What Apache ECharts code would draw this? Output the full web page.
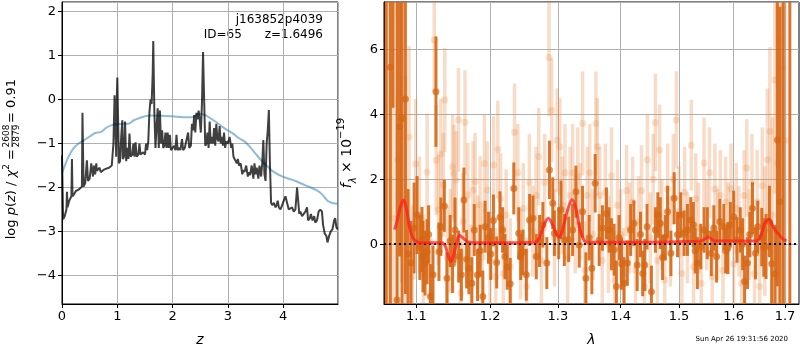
<!DOCTYPE html>
<html><head><meta charset="utf-8">
<script src="https://cdn.jsdelivr.net/npm/echarts@6/dist/echarts.min.js"></script>
<style>html,body{margin:0;padding:0;background:#fff}#c{width:800px;height:350px}</style>
</head><body><div id="c"></div>
<script>
// ---- left panel: log p(z) ----
const pzZ = [0.00,0.01,0.02,0.05,0.08,0.09,0.10,0.13,0.15,0.17,0.18,0.19,0.22,0.25,0.28,0.30,0.33,0.36,0.37,0.39,0.42,0.45,0.47,0.50,0.53,0.56,0.58,0.60,0.62,0.63,0.66,0.68,0.70,0.75,0.80,0.85,0.88,0.90,0.93,0.95,0.965,0.98,0.99,1.00,1.01,1.03,1.05,1.07,1.09,1.10,1.12,1.14,1.16,1.18,1.20,1.22,1.24,1.27,1.29,1.31,1.33,1.35,1.38,1.40,1.42,1.45,1.47,1.50,1.52,1.54,1.56,1.58,1.60,1.62,1.64,1.65,1.66,1.67,1.69,1.71,1.73,1.75,1.77,1.79,1.81,1.83,1.85,1.87,1.89,1.91,1.93,1.95,1.97,2.00,2.03,2.05,2.07,2.09,2.12,2.14,2.17,2.19,2.22,2.25,2.28,2.30,2.33,2.35,2.37,2.39,2.41,2.43,2.45,2.47,2.49,2.51,2.53,2.55,2.57,2.59,2.61,2.63,2.65,2.67,2.69,2.71,2.73,2.75,2.77,2.79,2.81,2.83,2.85,2.87,2.89,2.91,2.93,2.95,2.97,3.00,3.03,3.06,3.08,3.10,3.13,3.16,3.18,3.20,3.23,3.26,3.28,3.30,3.33,3.36,3.38,3.40,3.43,3.46,3.48,3.50,3.52,3.55,3.57,3.60,3.62,3.64,3.66,3.68,3.70,3.72,3.74,3.76,3.78,3.80,3.83,3.86,3.88,3.90,3.92,3.95,3.98,4.01,4.04,4.07,4.10,4.13,4.16,4.19,4.22,4.25,4.27,4.29,4.31,4.34,4.37,4.40,4.43,4.45,4.48,4.50,4.53,4.56,4.58,4.61,4.64,4.67,4.70,4.72,4.75,4.78,4.80,4.83,4.86,4.89,4.92,4.94,4.96,4.98];
const pzLog = [-1.27,-2.0,-2.72,-2.65,-2.5,-2.1,-2.45,-2.3,-2.25,-2.2,-1.35,-2.2,-2.15,-2.08,-2.1,-2.05,-2.02,-1.98,-0.3,-1.98,-1.9,-1.38,-1.85,-1.8,-1.45,-1.75,-1.5,-1.7,-1.45,-1.62,-1.62,-1.55,-1.65,-1.6,-1.57,-1.55,-1.52,-1.5,-1.0,0.1,-0.6,-1.3,0.0,0.5,-0.2,-1.45,-1.4,-0.85,-0.47,-1.35,-1.3,-0.5,-1.4,-1.1,-1.35,-0.77,-1.3,-1.25,-1.0,-1.3,-0.97,-1.3,-1.25,-1.0,-1.25,-1.25,-1.2,-1.25,-1.0,-1.15,-0.95,-0.3,0.0,-0.1,0.6,1.33,0.5,-0.3,-1.1,-0.6,-0.2,-1.1,-0.25,-1.0,-0.7,-1.1,-1.05,-0.75,-1.1,-0.75,-1.1,-0.8,-1.15,-1.1,-1.05,-1.15,-0.8,-1.15,-1.1,-1.15,-0.9,-1.15,-1.1,-1.1,-0.75,-1.1,-1.05,-0.55,-0.7,-0.35,-0.75,-0.3,-0.45,-0.25,-0.45,-0.75,-0.1,1.08,0.0,-1.05,-1.0,-0.75,-1.1,-0.5,-1.0,-0.85,-1.0,-0.65,-1.05,-0.55,-0.9,-0.95,-0.6,-1.0,-0.85,-1.05,-0.75,-1.1,-0.95,-1.0,-0.85,-1.1,-1.0,-1.3,-1.3,-1.45,-1.35,-1.5,-1.45,-1.7,-1.6,-1.65,-1.5,-1.75,-1.65,-1.72,-1.5,-1.8,-1.45,-1.7,-1.55,-1.8,-1.5,-1.75,-1.45,-0.92,-1.7,-1.85,-1.0,-0.7,-0.24,-1.5,-2.35,-2.4,-2.35,-2.45,-2.4,-2.3,-2.45,-2.5,-2.4,-2.3,-2.2,-2.35,-2.5,-2.5,-2.45,-2.55,-2.5,-2.0,-2.3,-2.6,-2.55,-2.65,-2.6,-2.55,-2.45,-2.75,-2.7,-2.6,-2.75,-2.65,-2.8,-2.75,-2.55,-2.5,-2.55,-2.85,-3.05,-3.1,-3.25,-3.1,-3.0,-2.95,-2.75,-2.7,-2.9,-2.95];
const priorZ = [0.0,0.1,0.2,0.3,0.4,0.5,0.6,0.7,0.8,0.9,1.0,1.1,1.2,1.3,1.4,1.5,1.6,1.8,2.0,2.2,2.35,2.5,2.6,2.7,2.8,2.9,3.0,3.1,3.2,3.3,3.4,3.5,3.6,3.7,3.8,4.0,4.2,4.4,4.6,4.7,4.8,4.9,4.99];
const priorLog = [-1.68,-1.35,-1.12,-1.0,-0.92,-0.84,-0.76,-0.74,-0.64,-0.58,-0.56,-0.55,-0.55,-0.47,-0.42,-0.38,-0.36,-0.37,-0.38,-0.40,-0.40,-0.32,-0.36,-0.44,-0.52,-0.62,-0.70,-0.78,-0.88,-0.95,-1.08,-1.23,-1.38,-1.5,-1.62,-1.76,-1.84,-1.95,-2.06,-2.15,-2.3,-2.36,-2.37];
const zTicks = [0,1,2,3,4];

// ---- right panel: spectrum ----
const darkLam = [1.0615,1.0667,1.0700,1.0751,1.0785,1.0815,1.0858,1.0892,1.0930,1.0970,1.1008,1.1045,1.1073,1.1086,1.1113,1.1139,1.1160,1.1183,1.1218,1.1257,1.1297,1.1323,1.1369,1.1404,1.1448,1.1480,1.1513,1.1563,1.1600,1.1635,1.1672,1.1704,1.1745,1.1778,1.1824,1.1861,1.1898,1.1930,1.1977,1.2010,1.2047,1.2094,1.2141,1.2179,1.2212,1.2246,1.2289,1.2341,1.2413,1.2442,1.2476,1.2525,1.2574,1.2624,1.2673,1.2722,1.2772,1.2832,1.2872,1.2922,1.2947,1.3013,1.3049,1.3100,1.3167,1.3229,1.3281,1.3333,1.3385,1.3438,1.3490,1.3533,1.3586,1.3650,1.3703,1.3768,1.3811,1.3850,1.3893,1.3931,1.3974,1.4015,1.4057,1.4112,1.4167,1.4222,1.4277,1.4333,1.4370,1.4406,1.4445,1.4519,1.4588,1.4630,1.4672,1.4712,1.4760,1.4799,1.4857,1.4915,1.4973,1.5032,1.5091,1.5150,1.5210,1.5257,1.5290,1.5329,1.5390,1.5450,1.5510,1.5583,1.5630,1.5680,1.5741,1.5815,1.5850,1.5889,1.5938,1.6000,1.6063,1.6126,1.6170,1.6208,1.6265,1.6310,1.6360,1.6418,1.6463,1.6540,1.6580,1.6624,1.6690,1.6735,1.6801,1.6847,1.6899,1.6965,1.7098];
const darkFlux = [8.5,5.45,8.0,-1.72,3.62,3.88,4.47,-0.3,-0.58,0.5,0.9,-0.1,0.15,-0.38,-0.58,-0.23,0.3,-1.61,-0.94,4.70,-0.23,0.54,1.18,-1.05,0.1,-0.6,0.44,-0.38,-0.94,1.36,-0.46,-0.74,-1.2,0.44,-0.95,-0.2,-1.61,0.54,0.2,-0.3,0.73,-0.56,0.83,0.44,-0.38,-0.7,-1.22,1.72,0.34,-0.4,-0.25,-0.94,0.75,0.8,-0.38,0.1,0.6,-0.58,2.29,1.26,0.34,0.34,1.06,0.13,0.15,0.44,1.62,-0.02,1.0,-1.05,0.2,-0.74,1.88,0.13,0.5,0.95,0.44,0.0,-0.17,-1.3,0.2,-0.6,-1.2,-0.58,0.44,0.65,-0.64,0.3,-0.9,-0.64,0.54,-1.46,0.44,0.9,0.65,-0.4,0.2,1.0,-0.28,1.42,0.3,0.9,0.34,0.44,0.75,0.6,-0.2,-0.58,-0.07,0.44,0.34,-0.28,0.5,-0.38,0.7,0.54,-0.2,-0.12,0.6,0.85,0.13,0.44,0.0,-1.15,-0.58,0.3,1.11,-0.28,0.54,0.22,-0.1,-0.07,0.7,-0.6,-0.91,3.21,1.31,8.5,8.5];
const darkErr = [12,8,3.8,12,4,6,6,2.0,1.3,1.4,1.2,1.0,1.0,1.1,1.0,1.0,0.9,1.0,0.9,1.7,0.9,0.9,0.8,0.8,0.8,0.9,1.0,0.8,0.8,1.0,0.9,0.8,0.8,0.8,0.8,0.8,0.8,0.8,0.8,0.8,0.8,0.8,0.8,0.7,0.7,0.7,0.8,0.8,0.8,0.7,0.7,0.8,0.8,0.7,0.7,0.8,0.7,0.8,0.9,0.8,0.7,0.8,0.9,0.8,0.7,0.8,0.8,0.7,0.8,0.8,0.7,0.8,0.9,0.8,0.7,0.8,0.7,0.8,0.8,0.8,0.7,0.8,0.8,0.7,0.8,0.7,0.8,0.7,0.7,0.8,0.7,0.8,0.7,0.7,0.8,0.7,0.7,0.8,0.7,0.8,0.7,0.7,0.7,0.8,0.7,0.7,0.7,0.8,0.7,0.7,0.8,0.7,0.7,0.8,0.7,0.7,0.7,0.8,0.7,0.8,0.7,0.7,0.8,0.8,0.8,0.7,0.8,0.8,0.8,0.9,0.9,1.0,1.1,1.3,1.5,4.5,6.0,12,12];
const lightLam = [1.0640,1.0700,1.0760,1.0810,1.0860,1.0905,1.0950,1.0990,1.1040,1.1090,1.1140,1.1190,1.1234,1.1260,1.1290,1.1322,1.1355,1.1375,1.1410,1.1450,1.1480,1.1500,1.1530,1.1560,1.1590,1.1620,1.1650,1.1690,1.1735,1.1760,1.1790,1.1830,1.1860,1.1890,1.1920,1.1960,1.2000,1.2050,1.2080,1.2110,1.2150,1.2190,1.2230,1.2290,1.2352,1.2400,1.2440,1.2480,1.2530,1.2570,1.2620,1.2670,1.2710,1.2750,1.2800,1.2865,1.2906,1.2950,1.2990,1.3030,1.3070,1.3110,1.3150,1.3190,1.3230,1.3270,1.3310,1.3350,1.3386,1.3420,1.3460,1.3500,1.3550,1.3597,1.3620,1.3660,1.3700,1.3750,1.3800,1.3850,1.3900,1.3950,1.4000,1.4050,1.4100,1.4150,1.4200,1.4250,1.4300,1.4350,1.4400,1.4450,1.4500,1.4550,1.4588,1.4620,1.4660,1.4700,1.4750,1.4800,1.4850,1.4900,1.4953,1.5000,1.5050,1.5100,1.5150,1.5219,1.5260,1.5300,1.5350,1.5400,1.5450,1.5500,1.5550,1.5600,1.5650,1.5700,1.5750,1.5800,1.5850,1.5900,1.5950,1.6000,1.6050,1.6100,1.6150,1.6200,1.6250,1.6300,1.6350,1.6400,1.6450,1.6500,1.6550,1.6600,1.6650,1.6700,1.6750,1.6800,1.6850,1.6900,1.6950,1.7000];
const lightFlux = [8.5,0.8,2.6,3.83,1.2,3.3,-1.0,2.47,0.9,-0.9,2.22,-1.5,6.29,2.59,1.06,2.78,1.83,4.44,-0.4,0.1,2.39,2.18,1.98,3.83,-1.5,0.7,3.76,1.52,-0.9,1.67,1.93,0.0,1.21,-0.4,2.49,1.67,-0.5,2.44,-1.0,2.92,1.4,-0.9,0.9,-0.7,3.45,2.2,-0.3,1.1,-1.3,1.9,0.4,1.5,2.7,-0.5,1.9,5.75,4.13,0.2,3.2,3.0,1.2,2.2,-0.4,1.5,2.2,0.6,2.1,1.0,3.72,-0.8,1.5,2.2,0.3,3.72,3.0,1.5,-0.5,1.6,0.0,2.1,-1.1,1.2,0.3,-0.9,1.65,0.5,1.3,-0.8,0.7,1.65,-1.3,2.6,0.2,2.0,3.75,-0.5,2.9,0.6,-1.1,1.7,0.1,2.0,3.83,1.0,-0.9,1.6,0.2,3.05,-0.7,1.4,0.5,-1.2,2.5,0.6,2.2,-1.0,1.7,0.3,1.5,-0.8,1.3,0.5,1.7,-0.6,1.1,0.4,-1.2,1.5,2.35,0.3,1.9,-0.9,1.3,-1.3,1.8,0.4,2.6,3.47,0.9,5.06,2.5,6.29,5.42,3.2];
const lightErr = [12,7,6,5,4,2.8,2.2,2.0,1.8,1.8,1.8,1.7,1.6,1.7,1.7,1.7,1.6,1.6,1.6,1.6,1.6,1.5,1.5,1.6,1.6,1.5,1.6,1.6,1.5,1.5,1.5,1.5,1.5,1.5,1.5,1.5,1.5,1.5,1.5,1.5,1.4,1.5,1.4,1.5,1.5,1.5,1.4,1.4,1.5,1.5,1.4,1.5,1.5,1.4,1.5,1.8,1.6,1.5,1.6,1.5,1.5,1.5,1.5,1.5,1.5,1.5,1.5,1.5,1.6,1.5,1.5,1.5,1.4,1.6,1.5,1.5,1.4,1.5,1.5,1.5,1.5,1.4,1.4,1.4,1.4,1.4,1.4,1.4,1.4,1.4,1.4,1.4,1.4,1.4,1.5,1.4,1.4,1.4,1.4,1.4,1.4,1.4,1.5,1.4,1.4,1.4,1.4,1.4,1.4,1.4,1.4,1.4,1.4,1.4,1.4,1.4,1.4,1.4,1.4,1.4,1.4,1.4,1.4,1.4,1.4,1.4,1.4,1.4,1.5,1.4,1.5,1.5,1.6,1.7,1.8,2.0,2.2,2.6,3.0,3.5,6,6,8,10];
const modelLam = [1.0720,1.0760,1.0800,1.0837,1.0870,1.0910,1.0950,1.0990,1.1050,1.1200,1.1330,1.1380,1.1420,1.1455,1.1500,1.1540,1.1570,1.1620,1.1680,1.1800,1.2400,1.2650,1.2720,1.2790,1.2855,1.2920,1.2980,1.3025,1.3080,1.3150,1.3220,1.3280,1.3340,1.3400,1.3460,1.4000,1.5000,1.5400,1.5480,1.5525,1.5590,1.5650,1.6000,1.6450,1.6530,1.6600,1.6680,1.6760,1.6850,1.6970,1.7030];
const modelFlux = [0.45,0.8,1.2,1.36,1.1,0.55,0.22,0.1,0.05,0.05,0.05,-0.05,-0.35,-0.53,-0.3,0.1,0.28,0.2,0.08,0.05,0.05,0.06,0.2,0.6,0.8,0.6,0.3,0.22,0.5,1.05,1.38,1.1,0.5,0.15,0.06,0.06,0.08,0.1,0.18,0.22,0.16,0.1,0.1,0.11,0.3,0.65,0.77,0.55,0.35,0.15,0.1];
const lamTicks = [1.1,1.2,1.3,1.4,1.5,1.6,1.7];

const FONT = 'DejaVu Sans';
const minus = v => String(v).replace('-', '\u2212');
const zip3 = (a,b,c) => a.map((v,i) => [v, b[i], c[i]]);
const zip2 = (a,b) => a.map((v,i) => [v, b[i]]);

function errBar(color, width) {
  return function (params, api) {
    const x = api.value(0), y = api.value(1), e = api.value(2);
    const p1 = api.coord([x, y + e]);
    const p2 = api.coord([x, y - e]);
    return { type: 'line', shape: { x1: p1[0], y1: p1[1], x2: p2[0], y2: p2[1] },
             style: { stroke: color, lineWidth: width } };
  };
}

const lightCol = 'rgba(232,140,70,0.3)';
const darkCol = 'rgba(214,102,20,0.9)';
const gridLine = { show: true, lineStyle: { color: '#b0b0b0', width: 1 } };
const tickStyle = { show: true, length: 4, lineStyle: { color: '#000' } };
const lab = { color: '#000', fontSize: 13, fontFamily: FONT, margin: 6 };

const chart = echarts.init(document.getElementById('c'), null, { renderer: 'canvas' });
chart.setOption({
  animation: false,
  backgroundColor: '#fff',
  grid: [
    { left: 62, top: 2, width: 276, height: 302, show: true, borderColor: '#000', borderWidth: 1, backgroundColor: 'transparent', containLabel: false, outerBoundsMode: 'none' },
    { left: 384, top: 2, width: 415, height: 302, show: true, borderColor: '#000', borderWidth: 1, backgroundColor: 'transparent', containLabel: false, outerBoundsMode: 'none' }
  ],
  xAxis: [
    { type: 'value', gridIndex: 0, min: 0, max: 4.99, interval: 1,
      axisLine: { show: true, onZero: false, lineStyle: { color: '#000' } }, axisTick: tickStyle,
      axisLabel: Object.assign({}, lab, { showMaxLabel: false, formatter: minus }), splitLine: gridLine,
      name: 'z', nameLocation: 'middle', nameGap: 29,
      nameTextStyle: { fontSize: 14, fontStyle: 'italic', fontFamily: FONT, color: '#000' } },
    { type: 'log', gridIndex: 1, min: 1.0587, max: 1.7284, logBase: 10,
      axisLine: { show: true, onZero: false, lineStyle: { color: '#000' } },
      axisTick: Object.assign({}, tickStyle, { customValues: lamTicks }),
      axisLabel: Object.assign({}, lab, { customValues: lamTicks, formatter: v => Number(v).toFixed(1) }),
      splitLine: gridLine, minorTick: { show: false }, minorSplitLine: { show: false },
      name: 'λ', nameLocation: 'middle', nameGap: 29,
      nameTextStyle: { fontSize: 14, fontStyle: 'italic', fontFamily: FONT, color: '#000' } }
  ],
  yAxis: [
    { type: 'value', gridIndex: 0, min: -4.65, max: 2.22,
      axisLine: { show: true, onZero: false, lineStyle: { color: '#000' } }, axisTick: tickStyle,
      axisLabel: Object.assign({}, lab, { showMinLabel: false, showMaxLabel: false, formatter: minus }),
      splitLine: gridLine },
    { type: 'value', gridIndex: 1, min: -1.84, max: 7.46,
      axisLine: { show: true, onZero: false, lineStyle: { color: '#000' } }, axisTick: tickStyle,
      axisLabel: Object.assign({}, lab, { showMinLabel: false, showMaxLabel: false, formatter: minus }),
      splitLine: gridLine,
      name: '{i|f}{s|λ}{n| × 10}{p|\u221219}', nameLocation: 'middle', nameGap: 24, nameRotate: 90,
      nameTextStyle: { color: '#000', fontFamily: FONT, fontSize: 14,
        rich: { i: { fontStyle: 'italic', fontSize: 14, fontFamily: FONT, lineHeight: 22, verticalAlign: 'middle' },
                n: { fontSize: 14, fontFamily: FONT, lineHeight: 22, verticalAlign: 'middle' },
                s: { fontSize: 10, fontStyle: 'italic', fontFamily: FONT, lineHeight: 22, verticalAlign: 'bottom' },
                p: { fontSize: 10, fontFamily: FONT, lineHeight: 22, verticalAlign: 'top' } } } }
  ],
  series: [
    { type: 'line', xAxisIndex: 0, yAxisIndex: 0, data: zip2(priorZ, priorLog), showSymbol: false,
      lineStyle: { color: 'rgba(31,119,180,0.5)', width: 2 }, smooth: 0.3, z: 2 },
    { type: 'line', xAxisIndex: 0, yAxisIndex: 0, data: zip2(pzZ, pzLog), showSymbol: false,
      lineStyle: { color: 'rgba(0,0,0,0.75)', width: 2 }, z: 3 },
    { type: 'custom', xAxisIndex: 1, yAxisIndex: 1, data: zip3(lightLam, lightFlux, lightErr),
      renderItem: errBar(lightCol, 3.5), clip: true, encode: { x: 0, y: 1 }, z: 2 },
    { type: 'scatter', xAxisIndex: 1, yAxisIndex: 1, data: zip2(lightLam, lightFlux), symbolSize: 7,
      itemStyle: { color: lightCol }, clip: true, z: 3 },
    { type: 'custom', xAxisIndex: 1, yAxisIndex: 1, data: zip3(darkLam, darkFlux, darkErr),
      renderItem: errBar(darkCol, 3), clip: true, encode: { x: 0, y: 1 }, z: 4 },
    { type: 'scatter', xAxisIndex: 1, yAxisIndex: 1, data: zip2(darkLam, darkFlux), symbolSize: 7,
      itemStyle: { color: darkCol }, clip: true, z: 5 },
    { type: 'line', xAxisIndex: 1, yAxisIndex: 1, data: zip2(modelLam, modelFlux), showSymbol: false,
      smooth: 0.3, lineStyle: { color: 'rgba(255,30,30,0.75)', width: 3 }, z: 6,
      markLine: { silent: true, symbol: 'none', label: { show: false },
        lineStyle: { color: '#000', type: [2, 3], width: 2 }, data: [{ yAxis: 0 }] } }
  ],
  graphic: [
    { type: 'text', x: 323, y: 20, style: { text: 'j163852p4039', align: 'right', verticalAlign: 'middle', font: '12px "DejaVu Sans"', fill: '#000' } },
    { type: 'text', x: 323, y: 35, style: { text: 'ID=65      z=1.6496', align: 'right', verticalAlign: 'middle', font: '12px "DejaVu Sans"', fill: '#000' } },
    { type: 'text', x: 788, y: 339, style: { text: 'Sun Apr 26 19:31:56 2020', align: 'right', verticalAlign: 'middle', font: '7px "DejaVu Sans"', fill: '#000' } },
    { type: 'group', x: 12, y: 136, rotation: Math.PI / 2, children: [
      { type: 'text', x: -13, y: 0, style: { text: '{n|log }{i|p}{n|(}{i|z}{n|) / }{i|χ}{p|2}{n| =}', align: 'right', verticalAlign: 'middle',
        rich: { n: { fontSize: 13, fontFamily: FONT, lineHeight: 20, verticalAlign: 'middle' },
                i: { fontSize: 13, fontStyle: 'italic', fontFamily: FONT, lineHeight: 20, verticalAlign: 'middle' },
                p: { fontSize: 9, fontFamily: FONT, lineHeight: 20, verticalAlign: 'top' } }, fill: '#000' } },
      { type: 'text', x: 0, y: -5, style: { text: '2608', align: 'center', verticalAlign: 'middle', font: '9px "DejaVu Sans"', fill: '#000' } },
      { type: 'line', shape: { x1: -11, y1: 0, x2: 11, y2: 0 }, style: { stroke: '#000', lineWidth: 0.8 } },
      { type: 'text', x: 0, y: 5, style: { text: '2879', align: 'center', verticalAlign: 'middle', font: '9px "DejaVu Sans"', fill: '#000' } },
      { type: 'text', x: 13, y: 0, style: { text: '= 0.91', align: 'left', verticalAlign: 'middle', font: '13px "DejaVu Sans"', fill: '#000' } }
    ] }
  ]
});
</script></body></html>
